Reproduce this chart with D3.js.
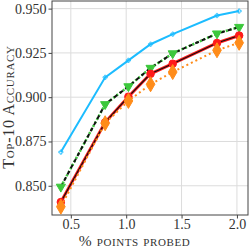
<!DOCTYPE html>
<html lang="en">
<head>
    <meta charset="UTF-8">
    <title>Top-10 accuracy vs % points probed</title>
    <script src="https://d3js.org/d3.v7.min.js"></script>
    <style>
        body { margin: 0; padding: 0; background: white; }
        svg text { font-family: "Liberation Serif", "DejaVu Serif", serif; fill: #333; }
    </style>
</head>
<body>
    <div id="chart"></div>
    <script>
        const probed = [0.41, 0.81, 1.02, 1.22, 1.42, 1.82, 2.02];
        const cyanAcc = [0.8690, 0.9112, 0.9208, 0.9299, 0.9356, 0.9461, 0.9486];
        const greenAcc = [0.8494, 0.8960, 0.9061, 0.9165, 0.9247, 0.9359, 0.9396];
        const redAcc = [0.8408, 0.8858, 0.9003, 0.9132, 0.9189, 0.9306, 0.9348];
        const orangeAcc = [0.8382, 0.8853, 0.8979, 0.9073, 0.9142, 0.9265, 0.9307];
        const xTicks = [0.5, 1.0, 1.5, 2.0];
        const yTicks = [0.850, 0.875, 0.900, 0.925, 0.950];

        const W = 249, H = 249;
        const m = { left: 52, right: 1, top: 1, bottom: 34 };

        const svg = d3.select("#chart").append("svg")
            .attr("width", W).attr("height", H);

        const x = d3.scaleLinear().domain([0.33, 2.10]).range([m.left, W - m.right]);
        const y = d3.scaleLinear().domain([0.8335, 0.9543]).range([H - m.bottom, m.top]);

        // grid
        svg.append("g").selectAll("line").data(xTicks).join("line")
            .attr("x1", d => x(d)).attr("x2", d => x(d))
            .attr("y1", m.top).attr("y2", H - m.bottom)
            .attr("stroke", "#dcdcdc").attr("stroke-width", 1);
        svg.append("g").selectAll("line").data(yTicks).join("line")
            .attr("x1", m.left).attr("x2", W - m.right)
            .attr("y1", d => y(d)).attr("y2", d => y(d))
            .attr("stroke", "#dcdcdc").attr("stroke-width", 1);

        // axes
        const xAxis = svg.append("g")
            .attr("transform", `translate(0,${H - m.bottom})`)
            .call(d3.axisBottom(x).tickValues(xTicks).tickFormat(d3.format(".1f")).tickSizeOuter(0).tickSize(3.5).tickPadding(1));
        const yAxis = svg.append("g")
            .attr("transform", `translate(${m.left},0)`)
            .call(d3.axisLeft(y).tickValues(yTicks).tickFormat(d3.format(".3f")).tickSizeOuter(0).tickSize(3.5).tickPadding(2));
        [xAxis, yAxis].forEach(a => {
            a.select(".domain").remove();
            a.selectAll("line").attr("stroke", "#444");
            a.selectAll("text").style("font-size", "14px").attr("fill", "#333");
        });

        // frame
        svg.append("rect")
            .attr("x", m.left).attr("y", m.top)
            .attr("width", W - m.left - m.right).attr("height", H - m.top - m.bottom)
            .attr("fill", "none").attr("stroke", "#444").attr("stroke-width", 1);

        const pts = vals => probed.map((p, i) => [p, vals[i]]);
        const line = d3.line().x(d => x(d[0])).y(d => y(d[1]));

        function drawLine(vals, color, width, dash) {
            svg.append("path").datum(pts(vals))
                .attr("d", line).attr("fill", "none")
                .attr("stroke", color).attr("stroke-width", width)
                .attr("stroke-dasharray", dash || null);
        }
        function drawMarks(vals, symbol, size, color, rot) {
            svg.append("g").selectAll("path").data(pts(vals)).join("path")
                .attr("d", d3.symbol().type(symbol).size(size))
                .attr("transform", d => `translate(${x(d[0])},${y(d[1])}) rotate(${rot || 0})`)
                .attr("fill", color).attr("stroke", color).attr("stroke-width", 1);
        }

        // cyan
        drawLine(cyanAcc, "#1cbcff", 2);
        svg.append("g").selectAll("path").data(pts(cyanAcc)).join("path")
            .attr("d", d3.symbol().type(d3.symbolCross).size(10))
            .attr("transform", d => `translate(${x(d[0])},${y(d[1])})`)
            .attr("fill", "none").attr("stroke", "#1cbcff").attr("stroke-width", 0.8);

        // green + black dashed
        drawLine(greenAcc, "#3cc83c", 2.5, "2,2");
        drawLine(greenAcc, "#111", 2, "4,3");
        drawMarks(greenAcc, d3.symbolTriangle, 36, "#3cc83c", 180);

        // red + black solid
        drawLine(redAcc, "#ff1a1a", 3);
        drawLine(redAcc, "#111", 1.2);
        drawMarks(redAcc, d3.symbolCircle, 45, "#ff1a1a");

        // orange dotted
        drawLine(orangeAcc, "#ff8c1a", 2, "2,3");
        drawMarks(orangeAcc, d3.symbolDiamond, 65, "#ff8c1a");

        // axis labels
        svg.append("text")
            .attr("x", 134.5).attr("y", 245.5)
            .attr("text-anchor", "middle")
            .style("font-size", "15.5px").style("font-variant", "small-caps")
            .style("letter-spacing", "0.6px")
            .text("% points probed");
        svg.append("text")
            .attr("transform", `translate(14,107) rotate(-90)`)
            .attr("text-anchor", "middle")
            .style("font-size", "16px").style("font-variant", "small-caps")
            .style("letter-spacing", "0.7px")
            .text("Top-10 Accuracy");
    </script>
</body>
</html>
